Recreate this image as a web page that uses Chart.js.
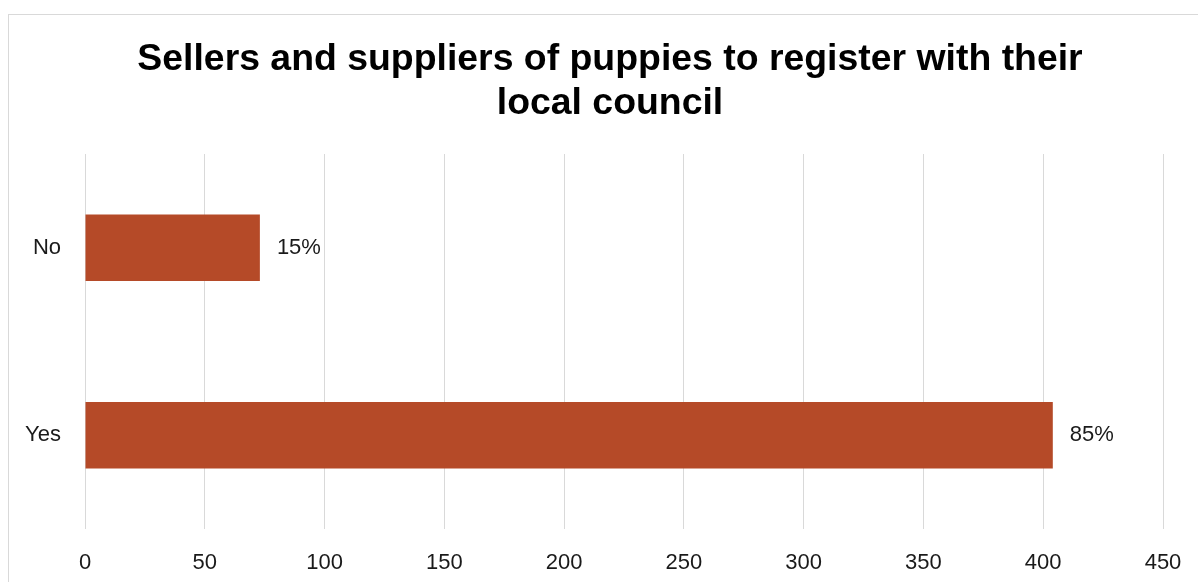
<!DOCTYPE html>
<html>
<head>
<meta charset="utf-8">
<script src="https://cdn.jsdelivr.net/npm/chart.js@4"></script>
<style>
    html, body { margin: 0; padding: 0; background: #fff; overflow: hidden; }
    #frame {
        position: absolute; left: 8px; top: 14px; width: 1300px; height: 700px;
        border-left: 1px solid #d9d9d9; border-top: 1px solid #d9d9d9;
    }
    #wrap { position: absolute; left: 0; top: 0; width: 1198px; height: 582px; }
</style>
</head>
<body>
<div id="frame"></div>
<div id="wrap"><canvas id="barChart"></canvas></div>
<script>
// Survey responses
const categories = ['No', 'Yes'];
const responses = [73, 404];
const shareLabels = ['15%', '85%'];
const xTicks = [0, 50, 100, 150, 200, 250, 300, 350, 400, 450];
const titleLines = ['Sellers and suppliers of puppies to register with their', 'local council'];

const FONT = '"Liberation Sans", Arial, Helvetica, sans-serif';

// Two-line bold heading, centred a little right of the canvas middle
const headingPlugin = {
    id: 'heading',
    afterDraw(chart) {
        const ctx = chart.ctx;
        ctx.save();
        ctx.font = 'bold 37.4px ' + FONT;
        ctx.fillStyle = '#000';
        ctx.textAlign = 'center';
        ctx.textBaseline = 'alphabetic';
        titleLines.forEach((line, i) => {
            ctx.fillText(line, 610, 70 + i * 44);
        });
        ctx.restore();
    }
};

// Writes the share text just past the end of each bar
const shareLabelPlugin = {
    id: 'shareLabels',
    afterDatasetsDraw(chart) {
        const ctx = chart.ctx;
        const meta = chart.getDatasetMeta(0);
        ctx.save();
        ctx.font = '22px ' + FONT;
        ctx.fillStyle = '#1a1a1a';
        ctx.textAlign = 'left';
        ctx.textBaseline = 'middle';
        meta.data.forEach((bar, i) => {
            ctx.fillText(shareLabels[i], bar.x + 17, bar.y);
        });
        ctx.restore();
    }
};

const barCtx = document.getElementById('barChart');
const barChart = new Chart(barCtx, {
    type: 'bar',
    data: {
        labels: categories,
        datasets: [{
            data: responses,
            backgroundColor: '#b54a28',
            borderWidth: 0,
            barPercentage: 0.355,
            categoryPercentage: 1
        }]
    },
    options: {
        indexAxis: 'y',
        responsive: true,
        maintainAspectRatio: false,
        animation: false,
        layout: {
            padding: { left: 0, right: 35, top: 154, bottom: 0 }
        },
        scales: {
            x: {
                min: 0,
                max: 450,
                afterBuildTicks(scale) {
                    scale.ticks = xTicks.map(v => ({ value: v }));
                },
                afterFit(scale) {
                    scale.height = 53;
                    scale.paddingLeft = 0;
                    scale.paddingRight = 0;
                },
                grid: { color: '#d9d9d9', lineWidth: 1, drawTicks: false },
                border: { display: false },
                ticks: {
                    padding: 21,
                    color: '#1a1a1a',
                    font: { family: FONT, size: 22 }
                }
            },
            y: {
                afterFit(scale) { scale.width = 85; },
                grid: { display: false, drawTicks: false },
                border: { display: false },
                ticks: {
                    padding: 24,
                    color: '#1a1a1a',
                    font: { family: FONT, size: 22 }
                }
            }
        },
        plugins: {
            title: { display: false },
            legend: { display: false },
            tooltip: { enabled: false }
        }
    },
    plugins: [shareLabelPlugin, headingPlugin]
});
</script>
</body>
</html>
